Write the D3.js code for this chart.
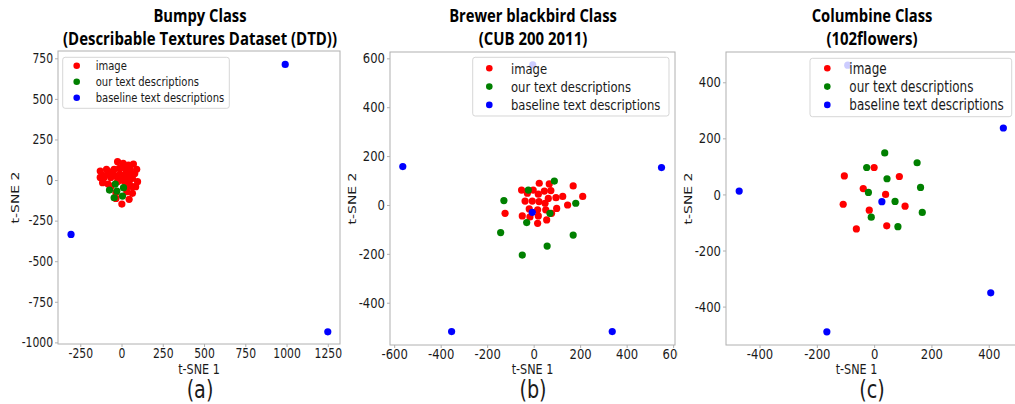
<!DOCTYPE html>
<html><head><meta charset="utf-8">
<script src="https://cdn.jsdelivr.net/npm/d3@7"></script>
<style>body{margin:0;background:#fff} svg{display:block}</style>
</head><body>
<svg id="chart" width="1015" height="404"></svg>
<script>
// ---------- data ----------
const seriesNames = ["image", "our text descriptions", "baseline text descriptions"];
const seriesColors = ["#ff0000", "#008000", "#0000ff"];

const titlesA = ["Bumpy Class", "(Describable Textures Dataset (DTD))"];
const titlesB = ["Brewer blackbird Class", "(CUB 200 2011)"];
const titlesC = ["Columbine Class", "(102flowers)"];
const subLabels = ["(a)", "(b)", "(c)"];
const xAxisLabel = "t-SNE 1";
const yAxisLabel = "t-SNE 2";

const imageA = [[-24,113],[10,103],[42,92],[72,99],[92,66],[52,66],[20,72],[-14,72],[-45,66],[-91,66],
  [-129,55],[-115,31],[-81,37],[-45,31],[-10,37],[26,37],[60,31],[-129,16],[-105,16],[-65,16],
  [-28,21],[6,16],[40,16],[66,10],[97,-10],[-115,-16],[-81,-25],[-24,-10],[20,-10],[46,-16],
  [66,-41],[86,-41],[36,-41],[-65,-41],[32,-72],[66,-82],[46,-119],[2,-148],[-34,-113],[-34,-78],[56,16],
  [-60,50],[30,55],[-5,0],[80,40]];
const ourA = [[-38,-25],[12,-47],[-73,-62],[-28,-68],[6,-99],[-45,-109]];
const baselineA = [[992,712],[-306,-335],[1250,-935]];
const xTicksA = [-250,0,250,500,750,1000,1250];
const yTicksA = [-1000,-750,-500,-250,0,250,500,750];

const imageB = [[-52,61],[-27,48],[-2,61],[24,89],[67,86],[74,59],[46,57],[20,44],[-37,16],[-6,16],
  [23,14],[63,27],[96,30],[125,35],[211,35],[170,78],[146,0],[49,7],[-19,-16],[17,-20],
  [52,-20],[99,-14],[77,-34],[-123,-34],[-49,-45],[-16,-49],[20,-45],[56,-61],[17,-75]];
const ourB = [[89,98],[-23,61],[-128,18],[181,7],[70,-34],[-30,-72],[-142,-113],[170,-123],[58,-168],[-49,-205]];
const baselineB = [[-4,573],[-563,157],[550,153],[-353,-518],[338,-518],[-6,-30]];
const xTicksB = [-600,-400,-200,0,200,400,600];
const yTicksB = [-400,-200,0,200,400,600];

const imageC = [[-104,66],[0,96],[88,64],[-38,21],[40,0],[-108,-35],[-17,-56],[108,-42],[44,-112],[-62,-123]];
const ourC = [[37,148],[150,113],[-26,96],[45,56],[162,25],[-20,7],[73,-25],[168,-64],[-10,-81],[83,-115]];
const baselineC = [[-92,461],[-471,12],[451,237],[407,-351],[-165,-490],[27,-26]];
const xTicksC = [-400,-200,0,200,400];
const yTicksC = [-400,-200,0,200,400];

// ---------- layout ----------
const SX = 0.8; // horizontal text compression seen in the reference
const panels = [
  {titles: titlesA, sub: subLabels[0], series: [imageA, ourA, baselineA], xTicks: xTicksA, yTicks: yTicksA,
   left: 58, right: 340, top: 51, bottom: 344, xDomain: [-385, 1324], yDomain: [-1010, 795],
   tickFont: 13.5, cx: 200, yLabX: 14, clipRight: null,
   legend: {x: 62.7, y: 57.3, w: 166.6, h: 51, font: 12.5, mx: 14, tx: 33, row0: 8.4, dy: 16}},
  {titles: titlesB, sub: subLabels[1], series: [imageB, ourB, baselineB], xTicks: xTicksB, yTicks: yTicksB,
   left: 390, right: 675, top: 52, bottom: 345, xDomain: [-618, 608], yDomain: [-573, 626],
   tickFont: 14.5, cx: 533, yLabX: 351, clipRight: 678,
   legend: {x: 472.7, y: 57.3, w: 196.3, h: 58.7, font: 14.5, mx: 16.6, tx: 38.3, row0: 11, dy: 18.3}},
  {titles: titlesC, sub: subLabels[2], series: [imageC, ourC, baselineC], xTicks: xTicksC, yTicks: yTicksC,
   left: 726, right: 1030, top: 52, bottom: 345, xDomain: [-517, 544], yDomain: [-537, 508],
   tickFont: 14.5, cx: 872, yLabX: 687, clipRight: null,
   legend: {x: 810, y: 58.3, w: 201.7, h: 58.4, font: 15, mx: 17.3, tx: 39.3, row0: 10, dy: 18.3}}
];

const svg = d3.select("#chart");
const defs = svg.append("defs");
const FONT = "DejaVu Sans";

function ctext(parent, x, y, str, size, anchor, opts = {}) {
  return parent.append("text")
    .attr("transform", `translate(${x},${y}) scale(${opts.sx ?? SX},1)`)
    .attr("text-anchor", anchor)
    .attr("font-family", opts.family || FONT)
    .attr("font-weight", opts.weight || "normal")
    .attr("font-size", size)
    .attr("fill", opts.fill || "#1a1a1a")
    .text(str);
}

panels.forEach((p, i) => {
  let g = svg.append("g");
  if (p.clipRight) {
    defs.append("clipPath").attr("id", "clip" + i)
      .append("rect").attr("x", 0).attr("y", 0).attr("width", p.clipRight).attr("height", 404);
    g.attr("clip-path", `url(#clip${i})`);
  }
  const x = d3.scaleLinear().domain(p.xDomain).range([p.left, p.right]);
  const y = d3.scaleLinear().domain(p.yDomain).range([p.bottom, p.top]);

  // titles
  ctext(g, p.cx, 21.5, p.titles[0], 18, "middle", {weight: "bold", family: "Open Sans", sx: 0.82, fill: "#000"});
  ctext(g, p.cx, 44.5, p.titles[1], 18, "middle", {weight: "bold", family: "Open Sans", sx: 0.83, fill: "#000"});

  // axes
  const xa = g.append("g").attr("transform", `translate(0,${p.bottom})`)
    .call(d3.axisBottom(x).tickValues(p.xTicks).tickSize(3).tickPadding(1).tickFormat(d => String(d)));
  const ya = g.append("g").attr("transform", `translate(${p.left},0)`)
    .call(d3.axisLeft(y).tickValues(p.yTicks).tickSize(3).tickPadding(2).tickFormat(d => String(d)));
  [xa, ya].forEach(a => {
    a.select(".domain").remove();
    a.selectAll("line").attr("stroke", "#b0b0b0");
    a.selectAll("text").attr("font-family", FONT).attr("font-size", p.tickFont).attr("fill", "#1a1a1a");
  });
  xa.selectAll("text").attr("transform", `scale(${SX},1)`);
  ya.selectAll("text").attr("transform", `scale(${SX},1)`).attr("x", -5 / SX);

  // frame
  g.append("rect").attr("x", p.left).attr("y", p.top)
    .attr("width", p.right - p.left).attr("height", p.bottom - p.top)
    .attr("fill", "none").attr("stroke", "#b0b0b0").attr("stroke-width", 1);

  // axis labels
  ctext(g, (p.left + Math.min(p.right, 1015)) / 2 + (i === 2 ? -14 : 0), 374, xAxisLabel, 14, "middle");
  g.append("text")
    .attr("transform", `translate(${p.yLabX + 5},${(p.top + p.bottom) / 2}) rotate(-90) scale(1,${SX})`)
    .attr("text-anchor", "middle").attr("font-family", FONT).attr("font-size", 14)
    .attr("fill", "#1a1a1a").text(yAxisLabel);

  // points
  p.series.forEach((pts, s) => {
    g.append("g").selectAll("circle").data(pts).join("circle")
      .attr("cx", d => x(d[0])).attr("cy", d => y(d[1])).attr("r", 3.6)
      .attr("fill", seriesColors[s]);
  });

  // legend
  const L = p.legend;
  g.append("rect").attr("x", L.x).attr("y", L.y).attr("width", L.w).attr("height", L.h)
    .attr("rx", 2.5).attr("fill", "#fff").attr("fill-opacity", 0.8)
    .attr("stroke", "#cccccc").attr("stroke-opacity", 0.8);
  seriesNames.forEach((nm, s) => {
    const cy = L.y + L.row0 + s * L.dy;
    g.append("circle").attr("cx", L.x + L.mx).attr("cy", cy).attr("r", 3.3).attr("fill", seriesColors[s]);
    ctext(g, L.x + L.tx, cy + L.font * 0.36, nm, L.font, "start");
  });

  // sub label
  ctext(svg, p.cx, 398, p.sub, 24, "middle");
});
</script>
</body></html>
